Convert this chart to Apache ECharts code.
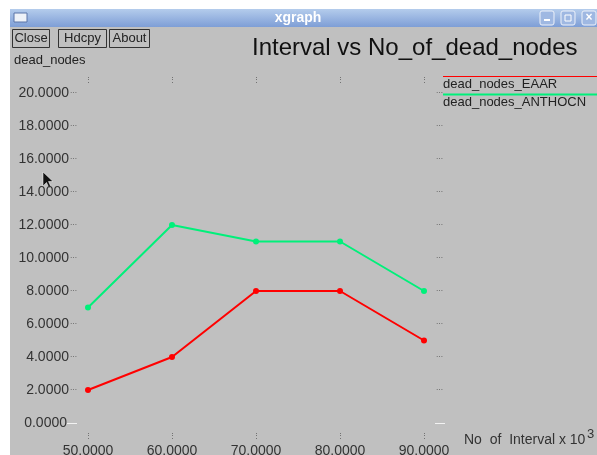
<!DOCTYPE html>
<html>
<head>
<meta charset="utf-8">
<script src="https://cdn.jsdelivr.net/npm/echarts@6/dist/echarts.min.js"></script>
<style>
html,body{margin:0;padding:0;background:#fff;}
#c{width:597px;height:455px;}
</style>
</head>
<body>
<div id="c"></div>
<script>
var xValues = [50, 60, 70, 80, 90];
var eaar = [2, 4, 8, 8, 5];
var anthocn = [7, 12, 11, 11, 8];
var seriesNames = ['dead_nodes_EAAR', 'dead_nodes_ANTHOCN'];
var seriesColors = ['#ff0000', '#00f07a'];
var chartTitle = 'Interval vs No_of_dead_nodes';
var yName = 'dead_nodes';
var xName = 'No  of  Interval x 10';

var FONT = '"Liberation Sans", Arial, sans-serif';
var chart = echarts.init(document.getElementById('c'), null, {renderer: 'canvas'});

function pairs(vals) { return xValues.map(function (x, i) { return [x, vals[i]]; }); }

var yLab = function (v) {
  return v === 0 ? v.toFixed(4) + '{w|—}' : v.toFixed(4) + '{d|···}';
};
var rightLab = function (v) { return v === 0 ? '{w|—}' : '{d|···}'; };
var richDots = {
  d: {fontSize: 7, color: '#555', fontFamily: FONT, padding: [0, 0, 0, 1]},
  w: {fontSize: 10, color: '#ffffff', fontFamily: FONT}
};

var option = {
  backgroundColor: '#ffffff',
  animation: false,
  graphic: [
    {type: 'rect', shape: {x: 10, y: 27, width: 587, height: 428}, style: {fill: '#c0c0c0'}, z: -10},
    {type: 'rect', shape: {x: 10, y: 9, width: 587, height: 18},
      style: {fill: new echarts.graphic.LinearGradient(0, 0, 0, 1, [{offset: 0, color: '#b4ccec'}, {offset: 1, color: '#7e9ed6'}])}, z: -9},
    {type: 'rect', shape: {x: 14, y: 13, width: 13, height: 9}, style: {fill: '#eef2f8', stroke: '#5a74a8', lineWidth: 1}},
    {type: 'text', x: 298, y: 18, style: {text: 'xgraph', fill: '#ffffff', font: 'bold 14px ' + FONT, textAlign: 'center', textVerticalAlign: 'middle'}},
    {type: 'rect', shape: {x: 540, y: 11, width: 14, height: 14, r: 2}, style: {fill: '#9fb8e2', stroke: '#eef2fa', lineWidth: 1}},
    {type: 'rect', shape: {x: 544, y: 19, width: 6, height: 2}, style: {fill: '#ffffff'}},
    {type: 'rect', shape: {x: 561, y: 11, width: 14, height: 14, r: 2}, style: {fill: '#9fb8e2', stroke: '#eef2fa', lineWidth: 1}},
    {type: 'rect', shape: {x: 565, y: 15, width: 6, height: 6}, style: {fill: 'none', stroke: '#ffffff', lineWidth: 1}},
    {type: 'rect', shape: {x: 582, y: 11, width: 14, height: 14, r: 2}, style: {fill: '#9fb8e2', stroke: '#eef2fa', lineWidth: 1}},
    {type: 'text', x: 589, y: 18, style: {text: '×', fill: '#ffffff', font: 'bold 12px ' + FONT, textAlign: 'center', textVerticalAlign: 'middle'}},
    // buttons
    {type: 'rect', shape: {x: 12.5, y: 29.5, width: 37, height: 18}, style: {fill: '#c0c0c0', stroke: '#333', lineWidth: 1}},
    {type: 'text', x: 31, y: 38.5, style: {text: 'Close', fill: '#222', font: '13px ' + FONT, textAlign: 'center', textVerticalAlign: 'middle'}},
    {type: 'rect', shape: {x: 58.5, y: 29.5, width: 48, height: 18}, style: {fill: '#c0c0c0', stroke: '#333', lineWidth: 1}},
    {type: 'text', x: 82.5, y: 38.5, style: {text: 'Hdcpy', fill: '#222', font: '13px ' + FONT, textAlign: 'center', textVerticalAlign: 'middle'}},
    {type: 'rect', shape: {x: 109.5, y: 29.5, width: 40, height: 18}, style: {fill: '#c0c0c0', stroke: '#333', lineWidth: 1}},
    {type: 'text', x: 129.5, y: 38.5, style: {text: 'About', fill: '#222', font: '13px ' + FONT, textAlign: 'center', textVerticalAlign: 'middle'}},
    // y name
    {type: 'text', x: 14, y: 60, style: {text: yName, fill: '#222', font: '13px ' + FONT, textVerticalAlign: 'middle'}},
    // x name
    {type: 'text', x: 464, y: 440, style: {text: xName, fill: '#333', font: '14px ' + FONT, textVerticalAlign: 'middle'}},
    {type: 'text', x: 587, y: 434, style: {text: '3', fill: '#333', font: '13px ' + FONT, textVerticalAlign: 'middle'}},
    // legend
    {type: 'rect', shape: {x: 443, y: 76, width: 154, height: 1}, style: {fill: seriesColors[0]}, z: 10},
    {type: 'text', x: 443, y: 84.5, style: {text: seriesNames[0], fill: '#222', font: '13px ' + FONT, textVerticalAlign: 'middle'}},
    {type: 'rect', shape: {x: 443, y: 93.5, width: 154, height: 2}, style: {fill: seriesColors[1]}, z: 10},
    {type: 'text', x: 443, y: 102, style: {text: seriesNames[1], fill: '#222', font: '13px ' + FONT, textVerticalAlign: 'middle'}},
    // mouse cursor
    {type: 'polygon', shape: {points: [[43, 172], [43, 186], [46.5, 182.5], [49, 188], [51, 187], [48.5, 181.5], [53, 181.5]]}, style: {fill: '#111', stroke: '#fff', lineWidth: 0.5}}
  ],
  title: {
    text: chartTitle, left: 247, top: 31,
    textStyle: {fontFamily: FONT, fontSize: 24, fontWeight: 'normal', color: '#111'}
  },
  grid: {left: 88, right: 173, top: 93, bottom: 32, containLabel: false, outerBoundsMode: 'none'},
  xAxis: [
    {type: 'value', min: 50, max: 90, interval: 10, position: 'bottom',
      axisLine: {show: false}, axisTick: {show: false}, splitLine: {show: false},
      axisLabel: {margin: 21, fontFamily: FONT, fontSize: 14, color: '#333', formatter: function (v) { return v.toFixed(4); }}},
    {type: 'value', min: 50, max: 90, interval: 10, position: 'bottom',
      axisLine: {show: false}, axisTick: {show: false}, splitLine: {show: false},
      axisLabel: {margin: 10, fontFamily: FONT, fontSize: 7, color: '#555', formatter: function () { return '⋮'; }}},
    {type: 'value', min: 50, max: 90, interval: 10, position: 'top',
      axisLine: {show: false}, axisTick: {show: false}, splitLine: {show: false},
      axisLabel: {margin: 9, fontFamily: FONT, fontSize: 7, color: '#555', formatter: function () { return '⋮'; }}}
  ],
  yAxis: [
    {type: 'value', min: 0, max: 20, interval: 2, position: 'left',
      axisLine: {show: false}, axisTick: {show: false}, splitLine: {show: false},
      axisLabel: {margin: 11, fontFamily: FONT, fontSize: 14, color: '#333', formatter: yLab, rich: richDots}},
    {type: 'value', min: 0, max: 20, interval: 2, position: 'right',
      axisLine: {show: false}, axisTick: {show: false}, splitLine: {show: false},
      axisLabel: {margin: 11, fontFamily: FONT, fontSize: 7, color: '#555', formatter: rightLab, rich: richDots}}
  ],
  series: [
    {name: seriesNames[0], type: 'line', data: pairs(eaar), xAxisIndex: 0, yAxisIndex: 0,
      symbol: 'circle', symbolSize: 6, lineStyle: {color: seriesColors[0], width: 2}, itemStyle: {color: seriesColors[0]}},
    {name: seriesNames[1], type: 'line', data: pairs(anthocn), xAxisIndex: 0, yAxisIndex: 0,
      symbol: 'circle', symbolSize: 6, lineStyle: {color: seriesColors[1], width: 2}, itemStyle: {color: seriesColors[1]}}
  ]
};
chart.setOption(option);
</script>
</body>
</html>
